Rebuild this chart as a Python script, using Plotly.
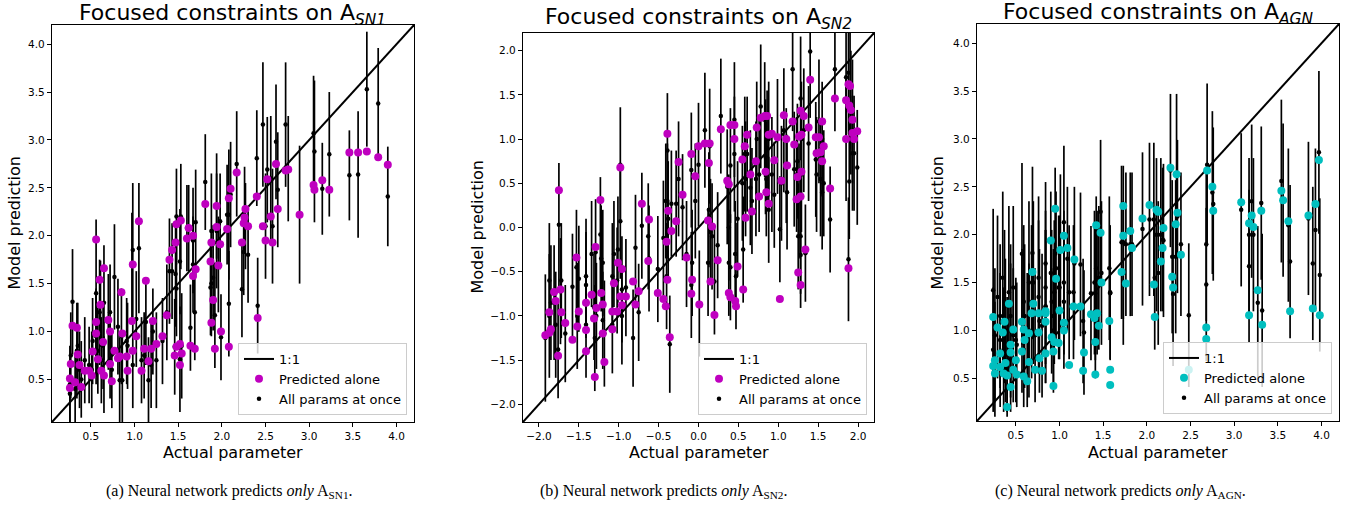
import plotly.graph_objects as go

# ---------------- data ----------------
# Panel (a): A_SN1
sn1_actual = [3.46,3.56,3.66,3.79,3.90,3.05,3.06,3.15,3.23,2.89,
              2.73,2.76,2.62,2.52,2.40,2.64,2.56,2.47,2.50,2.58,
              2.17,2.10,2.08,2.06,2.27,2.26,2.25,2.30,2.23,1.81,
              1.94,1.94,1.98,1.88,1.87,1.96,1.90,1.88,1.99,1.92,
              2.08,2.41,1.67,1.60,1.62,1.53,1.48,1.47,1.43,1.40,
              1.70,1.67,1.37,1.32,1.52,1.48,1.54,1.46,1.52,1.64,
              1.69,1.05,0.98,1.13,1.21,1.02,1.11,1.19,1.25,1.16,
              1.08,0.98,0.92,0.97,0.86,0.85,0.56,0.65,0.60,0.61,
              0.56,0.56,0.70,0.72,0.64,0.29,0.34,0.35,0.52,0.27,
              0.37,0.43,0.48,0.58,0.62,0.72,0.81,0.77,0.74,0.65,
              0.26,0.26,0.39,0.32,0.51,0.83,0.91]
sn1_alone = [2.87,2.87,2.88,2.82,2.74,2.53,2.48,2.58,2.48,2.22,
             2.68,2.69,2.75,2.59,2.41,2.28,2.20,2.10,1.95,1.93,
             2.66,2.49,2.39,2.07,2.28,2.19,2.13,2.10,1.93,2.33,
             2.31,2.09,1.91,1.93,1.73,1.69,1.33,1.09,1.00,0.82,
             0.84,1.14,2.00,1.97,2.08,2.16,2.12,1.93,1.85,1.75,
             1.65,1.58,1.17,0.95,0.87,0.84,0.77,0.75,0.65,0.85,
             0.82,2.15,1.70,1.53,1.11,0.95,0.82,0.82,0.87,0.69,
             0.59,0.80,0.59,1.11,0.98,1.41,1.96,1.66,1.54,1.28,
             1.10,0.98,1.12,1.00,0.89,1.06,1.04,0.76,0.79,0.66,
             0.65,0.59,0.59,0.71,0.59,0.66,0.72,0.80,0.48,0.54,
             0.51,0.41,0.42,0.47,0.54,0.74,0.74]
sn1_all = [2.63,2.64,3.53,3.38,2.41,3.07,2.88,2.49,2.85,2.22,
           3.16,2.70,2.98,2.69,2.81,2.48,2.60,3.16,2.10,2.10,
           2.75,2.43,2.22,2.22,2.10,2.27,1.83,1.80,1.44,2.56,
           2.31,2.05,2.15,2.05,1.46,1.70,1.56,1.50,0.94,1.17,
           1.29,1.27,1.95,2.08,2.08,2.20,2.20,1.60,1.63,1.63,
           2.14,1.70,1.20,0.90,1.73,1.45,0.85,0.84,0.71,1.04,
           1.20,1.87,1.85,1.10,1.00,1.13,0.75,0.65,0.70,0.49,
           0.70,0.65,0.85,1.69,0.49,0.95,1.40,1.30,1.20,1.29,
           0.95,0.98,1.10,1.20,0.85,1.31,0.80,0.85,0.90,0.75,
           0.60,0.70,0.65,0.80,0.70,0.70,1.05,1.57,0.60,0.55,
           0.45,0.35,0.50,0.40,0.60,0.49,0.90]
sn1_err = [0.47,0.66,0.60,0.58,0.52,0.60,0.74,0.48,0.65,0.72,
           0.65,0.55,0.60,0.55,0.50,0.60,0.65,0.65,0.55,0.60,
           0.55,0.55,0.68,0.52,0.45,0.45,0.45,0.50,0.50,0.50,
           0.55,0.60,0.50,0.60,0.50,0.50,0.55,0.55,0.45,0.55,
           0.55,0.50,0.55,0.45,0.45,0.55,0.50,0.55,0.50,0.55,
           0.55,0.50,0.50,0.45,0.55,0.50,0.55,0.50,0.55,0.45,
           0.50,0.68,0.70,0.45,0.45,0.50,0.45,0.45,0.50,0.45,
           0.45,0.45,0.45,0.55,0.45,0.50,0.77,0.60,0.55,0.45,
           0.50,0.45,0.50,0.50,0.45,0.55,0.50,0.45,0.45,0.45,
           0.40,0.45,0.40,0.45,0.45,0.40,0.50,0.55,0.40,0.40,
           0.40,0.30,0.40,0.35,0.40,0.45,0.45]

# Panel (b): A_SN2
sn2_actual = [-1.92,-1.87,-1.85,-1.87,-1.81,-1.79,-1.73,-1.75,-1.72,-1.67,
              -1.76,-1.58,-1.53,-1.50,-1.52,-1.41,-1.41,-1.41,-1.34,-1.31,
              -1.29,-1.28,-1.30,-1.23,-1.22,-1.20,-1.20,-1.18,-1.08,-1.08,
              -1.06,-1.02,-1.01,-0.96,-0.98,-0.98,-0.96,-0.91,-0.82,-0.79,
              -0.75,-0.71,-0.62,-0.63,-0.51,-0.44,-0.41,-0.40,-0.38,-0.39,
              -0.39,-0.36,-0.34,-0.28,-0.25,-0.20,-0.15,-0.09,-0.09,-0.08,
              -0.04,0.00,0.01,0.08,0.14,0.13,0.12,0.17,0.15,0.20,
              0.24,0.28,0.40,0.45,0.45,0.36,0.38,0.38,0.40,0.49,
              0.47,0.46,0.56,0.55,0.58,0.59,0.61,0.65,0.67,0.73,
              0.72,0.76,0.78,0.83,0.86,0.84,0.85,0.88,0.88,0.92,
              0.95,0.99,1.02,1.04,1.07,1.10,1.11,1.18,1.20,1.24,
              1.23,1.25,1.26,1.29,1.28,1.29,1.28,1.28,1.32,1.34,
              1.38,1.40,1.47,1.51,1.48,1.53,1.55,1.55,1.57,1.65,
              1.71,1.85,1.88,1.90,1.89,1.91,1.93,1.85,1.93,1.99,
              1.95,1.88]
sn2_alone = [-1.22,-1.19,-1.15,-0.96,-0.73,-0.83,-0.70,0.42,-0.96,-1.08,
             -1.45,-1.27,-0.34,-0.95,-1.12,-0.85,-1.16,-1.40,-0.76,-1.03,
             -0.22,-0.91,-1.69,0.31,-0.74,-1.20,-0.87,-1.52,-0.95,-1.15,
             -0.63,-0.95,-0.40,-0.47,0.68,-0.78,-0.88,-0.78,-0.61,-0.87,
             -0.72,0.27,0.09,-0.38,-0.74,-0.81,-0.89,-0.16,0.19,-0.59,
             1.06,-1.24,-0.04,0.07,0.74,0.37,-0.34,0.83,-0.75,-0.59,
             0.58,0.92,-0.87,0.95,0.95,0.73,0.08,0.01,-0.61,-0.99,
             -0.37,1.11,1.16,1.16,1.00,0.53,0.49,-0.74,-0.79,-0.44,
             -0.89,-0.83,-0.70,0.77,0.92,0.11,1.05,0.60,0.18,1.13,
             0.75,0.35,1.24,1.26,1.26,0.63,0.40,0.27,1.05,1.06,
             0.76,1.02,-0.81,0.53,1.27,1.00,0.70,1.20,0.94,0.57,
             0.32,-0.51,1.03,1.05,1.32,0.63,0.35,-0.65,1.26,-0.25,
             1.13,1.67,1.02,1.02,0.84,0.85,1.20,0.75,0.92,0.44,
             1.46,1.44,1.62,1.60,1.38,1.33,1.22,1.00,1.07,1.09,
             1.00,-0.46]
sn2_all = [-1.25,-1.00,-0.85,-0.60,-0.85,-1.10,-0.72,0.03,-0.60,-1.20,
           -1.38,-0.67,-0.45,-0.58,-1.00,-0.55,-0.65,-1.10,-0.30,-0.90,
           -0.28,-1.00,-1.25,-0.08,-0.35,-1.05,-0.40,-1.20,-0.55,-1.10,
           -0.30,-0.60,-0.25,-0.70,0.71,0.07,-1.00,-0.68,-1.25,-0.23,
           -0.96,0.02,-0.35,-0.10,-0.47,-0.12,0.30,-0.55,0.10,0.30,
           0.87,-1.32,0.27,0.27,0.55,0.23,-0.30,0.65,-0.65,-0.40,
           0.30,0.71,-0.86,1.10,0.92,0.20,-0.40,-0.10,-0.05,-0.61,
           -0.20,1.26,0.70,1.22,0.83,0.46,0.00,-0.40,-0.45,0.10,
           -0.55,-0.30,-0.25,0.50,0.83,0.55,0.83,0.45,0.30,1.00,
           0.55,0.60,1.37,1.22,0.90,0.80,0.55,0.20,1.00,0.60,
           0.37,1.03,-0.02,0.50,1.10,0.70,0.40,1.79,0.66,0.75,
           0.60,-0.10,0.30,1.00,1.46,0.60,-0.31,-0.10,1.10,-0.29,
           0.95,1.99,0.77,1.20,0.60,0.55,1.00,0.40,0.50,0.09,
           1.79,1.70,1.75,1.59,0.52,1.30,0.84,1.00,1.20,0.68,
           0.84,-0.36]
sn2_err = [0.72,0.70,0.65,0.65,0.65,0.60,0.60,0.70,0.65,0.55,
           0.55,0.60,0.65,0.60,0.60,0.65,0.60,0.60,0.60,0.60,
           0.60,0.60,0.60,0.65,0.60,0.55,0.60,0.60,0.60,0.55,
           0.60,0.60,0.60,0.60,0.65,0.65,0.55,0.55,0.55,0.60,
           0.55,0.60,0.60,0.60,0.60,0.65,0.65,0.60,0.65,0.65,
           0.65,0.55,0.60,0.60,0.65,0.60,0.60,0.65,0.60,0.60,
           0.65,0.70,0.60,0.65,0.65,0.65,0.60,0.60,0.60,0.60,
           0.60,0.65,0.65,0.65,0.65,0.65,0.60,0.60,0.60,0.65,
           0.60,0.60,0.60,0.65,0.65,0.65,0.65,0.65,0.60,0.65,
           0.65,0.65,0.70,0.65,0.65,0.65,0.65,0.60,0.65,0.65,
           0.60,0.65,0.60,0.65,0.70,0.65,0.65,0.70,0.65,0.65,
           0.65,0.60,0.65,0.65,0.70,0.65,0.60,0.65,0.70,0.55,
           0.65,0.75,0.65,0.70,0.65,0.65,0.65,0.65,0.60,0.60,
           0.70,0.70,0.70,0.70,0.65,0.70,0.65,0.70,0.70,0.65,
           0.65,0.70]

# Panel (c): A_AGN
agn_actual = [2.27,2.69,2.34,3.97,3.54,3.56,2.75,2.76,3.08,3.31,
              3.93,3.85,3.62,3.20,3.17,3.22,3.27,3.17,3.32,3.64,
              3.90,3.98,2.68,2.68,2.48,2.03,2.11,2.13,2.19,2.35,
              2.33,2.18,2.16,2.39,2.29,2.30,2.08,2.09,1.95,1.81,
              1.73,1.73,1.83,1.71,1.76,1.42,1.47,1.48,1.36,1.40,
              1.43,1.45,1.41,1.41,1.57,1.58,1.58,1.28,1.27,1.11,
              0.95,0.90,1.05,1.01,1.09,1.17,0.96,1.00,1.05,1.05,
              1.16,1.24,0.91,0.93,0.94,0.99,0.93,0.69,0.70,0.68,
              0.76,0.84,0.84,0.84,0.76,0.65,0.57,0.59,0.60,0.47,
              0.42,0.37,0.35,0.29,0.24,0.44,0.44,0.57,0.65,0.77,
              0.84,0.72,0.80,0.50,0.26,0.24,0.26,0.32,0.38,0.36,
              0.40,0.47,0.51,0.59,0.63,0.44,0.40,0.32]
agn_alone = [2.70,2.67,2.63,2.78,2.46,2.36,2.50,2.25,2.34,2.25,
             2.32,2.20,2.14,2.20,2.12,2.08,1.42,1.16,1.06,1.20,
             1.23,1.16,1.03,0.91,0.59,2.31,2.26,2.24,2.07,2.23,
             2.11,1.86,1.72,1.79,1.56,1.45,1.48,1.14,2.17,2.04,
             2.30,1.99,1.86,1.61,1.49,2.10,2.02,1.50,1.17,1.13,
             1.18,1.05,0.88,0.54,1.10,0.59,0.43,0.77,0.58,0.64,
             2.27,1.94,1.99,1.84,1.86,1.74,1.54,1.21,1.08,1.00,
             1.25,1.25,0.93,0.78,0.88,0.87,0.42,1.61,1.28,1.18,
             1.18,1.18,1.20,1.09,0.98,0.97,1.09,1.01,0.90,1.01,
             1.28,1.09,0.98,1.03,1.14,0.85,0.77,0.78,0.67,0.71,
             0.76,0.59,0.58,0.69,0.69,0.63,0.55,0.62,0.66,0.55,
             0.53,0.59,0.54,0.52,0.47,0.41,0.20,0.76]
agn_all = [2.67,2.73,2.62,2.86,2.56,2.36,2.44,2.32,2.26,2.33,
           2.05,2.17,2.10,2.35,1.67,2.00,1.29,2.00,1.21,1.72,
           1.70,1.58,1.90,1.48,1.16,2.16,2.00,1.60,1.94,2.19,
           1.77,1.95,2.00,1.90,1.77,1.38,2.16,1.55,2.06,1.90,
           1.92,1.60,1.90,1.92,1.90,1.65,2.24,1.60,1.39,1.50,
           1.50,1.55,1.39,1.20,1.65,1.39,1.40,0.98,1.10,1.40,
           1.80,1.60,2.13,1.83,1.75,1.70,1.65,1.45,1.30,1.50,
           1.40,1.69,1.30,1.15,1.40,1.45,1.00,1.81,1.50,1.30,
           1.55,1.25,1.45,1.70,1.35,1.50,1.80,1.30,1.15,1.45,
           1.40,1.25,1.55,1.35,1.42,1.15,1.00,1.10,1.00,1.10,
           1.25,0.95,1.05,0.90,0.95,0.80,0.70,0.90,1.00,0.80,
           0.75,0.95,0.85,0.80,0.90,0.70,0.60,1.15]
agn_err = [0.80,0.85,0.85,0.85,0.85,0.80,0.85,0.80,0.80,0.80,
           0.85,0.80,0.80,0.80,0.80,0.80,0.80,0.80,0.80,0.80,
           0.80,0.80,0.80,0.80,0.75,0.80,0.80,0.75,0.80,0.80,
           0.80,0.75,0.80,0.75,0.80,0.75,0.80,0.75,0.80,0.75,
           0.80,0.75,0.75,0.80,0.75,0.75,0.75,0.75,0.70,0.75,
           0.75,0.75,0.70,0.70,0.75,0.70,0.70,0.65,0.65,0.70,
           0.90,0.85,0.80,0.80,0.75,0.80,0.80,0.75,0.70,0.75,
           0.70,0.75,0.75,0.70,0.75,0.75,0.65,0.90,0.85,0.80,
           0.85,0.80,0.80,0.85,0.80,0.85,0.95,0.80,0.75,0.85,
           0.90,0.80,0.90,0.85,0.85,0.75,0.70,0.75,0.70,0.75,
           0.80,0.70,0.75,0.65,0.70,0.65,0.60,0.70,0.75,0.65,
           0.60,0.70,0.65,0.60,0.70,0.55,0.50,0.75]

# axis ranges / 1:1 line end points and ticks
pos_range = [0.055, 4.2]
sym_range = [-2.2, 2.2]
pos_ticks = [0.5, 1.0, 1.5, 2.0, 2.5, 3.0, 3.5, 4.0]
pos_ticklabels = ["0.5", "1.0", "1.5", "2.0", "2.5", "3.0", "3.5", "4.0"]
sym_ticks = [-2.0, -1.5, -1.0, -0.5, 0.0, 0.5, 1.0, 1.5, 2.0]
sym_ticklabels = ["\u22122.0", "\u22121.5", "\u22121.0", "\u22120.5", "0.0", "0.5", "1.0", "1.5", "2.0"]

titles = ["Focused constraints on A<sub><i>SN1</i></sub>",
          "Focused constraints on A<sub><i>SN2</i></sub>",
          "Focused constraints on A<sub><i>AGN</i></sub>"]
captions = ["(a) Neural network predicts <i>only</i> A<sub>SN1</sub>.",
            "(b) Neural network predicts <i>only</i> A<sub>SN2</sub>.",
            "(c) Neural network predicts <i>only</i> A<sub>AGN</sub>."]

# ---------------- layout helpers ----------------
W, H = 1364, 510


def fx(p):
    return p / W


def fy(p):
    return 1 - p / H


MAGENTA = "#bf00bf"
CYAN = "#00bfbf"
FONT = "DejaVu Sans"

panels = [
    dict(a=sn1_actual, s=sn1_alone, p=sn1_all, e=sn1_err, c=MAGENTA, r=pos_range,
         tv=pos_ticks, tt=pos_ticklabels, box=(52, 414, 25, 422), ttl_y=14, ylab_x=14, cap_x=229),
    dict(a=sn2_actual, s=sn2_alone, p=sn2_all, e=sn2_err, c=MAGENTA, r=sym_range,
         tv=sym_ticks, tt=sym_ticklabels, box=(523, 874, 33, 422), ttl_y=19, ylab_x=477, cap_x=663),
    dict(a=agn_actual, s=agn_alone, p=agn_all, e=agn_err, c=CYAN, r=pos_range,
         tv=pos_ticks, tt=pos_ticklabels, box=(977, 1339, 24, 421), ttl_y=13, ylab_x=937, cap_x=1120),
]

fig = go.Figure()
layout = dict(width=W, height=H, autosize=False,
              margin=dict(l=0, r=0, t=0, b=0),
              paper_bgcolor="white", plot_bgcolor="white",
              font=dict(family=FONT, color="black"),
              showlegend=True)
annotations = []

for i, pnl in enumerate(panels):
    k = "" if i == 0 else str(i + 1)
    xa, ya = "x" + k, "y" + k
    lg = "legend" + k
    l, r, t, b = pnl["box"]
    rng = pnl["r"]

    # 1:1 line
    fig.add_trace(go.Scatter(x=rng, y=rng, mode="lines",
                             line=dict(color="black", width=2),
                             name="1:1", xaxis=xa, yaxis=ya, legend=lg,
                             legendrank=1, hoverinfo="skip"))
    # all params at once (error bars)
    fig.add_trace(go.Scatter(x=pnl["a"], y=pnl["p"], mode="markers",
                             marker=dict(color="black", size=4.5),
                             error_y=dict(type="data", array=pnl["e"], visible=True,
                                          color="black", thickness=1.7, width=0),
                             name="All params at once", xaxis=xa, yaxis=ya, legend=lg,
                             legendrank=3))
    # predicted alone
    fig.add_trace(go.Scatter(x=pnl["a"], y=pnl["s"], mode="markers",
                             marker=dict(color=pnl["c"], size=8),
                             name="Predicted alone", xaxis=xa, yaxis=ya, legend=lg,
                             legendrank=2))

    axis_common = dict(showgrid=False, zeroline=False, showline=True, mirror=True,
                       linecolor="black", linewidth=1.2, ticks="outside", ticklen=4,
                       tickwidth=1, tickcolor="black",
                       tickfont=dict(family=FONT, size=10.5, color="black"),
                       range=rng, tickmode="array", tickvals=pnl["tv"], ticktext=pnl["tt"])
    layout["xaxis" + k] = dict(axis_common, domain=[fx(l), fx(r)], anchor=ya)
    layout["yaxis" + k] = dict(axis_common, domain=[fy(b), fy(t)], anchor=xa)

    layout[lg] = dict(x=fx(r - 7), y=fy(b - 7), xanchor="right", yanchor="bottom",
                      xref="paper", yref="paper",
                      bgcolor="rgba(255,255,255,0.8)", bordercolor="#cccccc", borderwidth=1,
                      font=dict(family=FONT, size=13, color="black"),
                      traceorder="normal", tracegroupgap=0, itemwidth=30)

    cx = (l + r) / 2
    cy = (t + b) / 2
    annotations.append(dict(text=titles[i], x=fx(cx), y=fy(pnl["ttl_y"]), xref="paper", yref="paper",
                            xanchor="center", yanchor="middle", showarrow=False,
                            font=dict(family=FONT, size=22, color="black")))
    annotations.append(dict(text="Actual parameter", x=fx(cx), y=fy(452), xref="paper", yref="paper",
                            xanchor="center", yanchor="middle", showarrow=False,
                            font=dict(family=FONT, size=16, color="black")))
    annotations.append(dict(text="Model prediction", x=fx(pnl["ylab_x"]), y=fy(cy), xref="paper",
                            yref="paper", xanchor="center", yanchor="middle", showarrow=False,
                            textangle=-90, font=dict(family=FONT, size=16, color="black")))
    annotations.append(dict(text=captions[i], x=fx(pnl["cap_x"]), y=fy(491), xref="paper", yref="paper",
                            xanchor="center", yanchor="middle", showarrow=False,
                            font=dict(family="Liberation Serif", size=16, color="black")))

layout["annotations"] = annotations
fig.update_layout(**layout)
# remove the default 8px page margin so the figure fills the window exactly; hide the modebar
fig.write_html("out.html", config={"displayModeBar": False},
               post_script="document.body.style.margin='0px';")
